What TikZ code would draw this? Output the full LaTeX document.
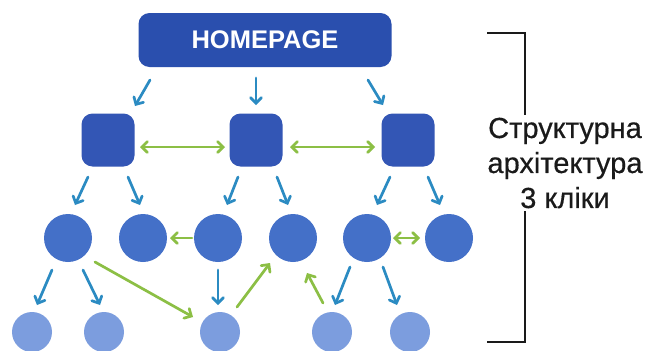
\documentclass[tikz,border=0pt]{standalone}
\usepackage{fontspec}
\setmainfont{Liberation Sans}
\newfontfamily\captionfont[FakeBold=0.5]{Liberation Sans}
\usetikzlibrary{arrows.meta}

\definecolor{navy}{HTML}{2A4FAE}
\definecolor{sqblue}{HTML}{3356B5}
\definecolor{midblue}{HTML}{4470C8}
\definecolor{lightblue}{HTML}{7C9DDE}
\definecolor{linkblue}{HTML}{2B8BC2}
\definecolor{linkgreen}{HTML}{8CBF45}
\definecolor{ink}{HTML}{1A1A1A}

\tikzset{
  tip/.tip={Straight Barb[length=5.5pt,width=11pt,line cap=round]},
  homebox/.style={fill=navy, rounded corners=11pt, minimum width=253pt,
    minimum height=54pt, inner sep=0pt, text=white,
    font=\fontsize{25.5}{30}\selectfont\bfseries},
  pagebox/.style={fill=sqblue, rounded corners=11pt, minimum size=53pt, inner sep=0pt},
  pagedot/.style={circle, fill=midblue, minimum size=48pt, inner sep=0pt},
  leafdot/.style={circle, fill=lightblue, minimum size=40pt, inner sep=0pt},
  down/.style={draw=linkblue, line width=2.7pt, line cap=round, -tip},
  cross/.style={draw=linkgreen, line width=2.7pt, line cap=round, -tip},
  crossboth/.style={cross, tip-tip},
  bracket/.style={draw=ink, line width=2pt},
  caption/.style={align=center, text=ink, font=\captionfont\fontsize{29}{35}\selectfont}
}

\begin{document}
\begin{tikzpicture}[x=1pt, y=-1pt]
  \useasboundingbox[fill=white] (0,0) rectangle (649,351);

  % top level
  \node[homebox] (home) at (265,40) {HOMEPAGE};

  % second level pages
  \node[pagebox] (sq1) at (108,140) {};
  \node[pagebox] (sq2) at (256,140) {};
  \node[pagebox] (sq3) at (408,140) {};

  % third level pages
  \node[pagedot] (c1) at (68,238) {};
  \node[pagedot] (c2) at (143,238) {};
  \node[pagedot] (c3) at (218,238) {};
  \node[pagedot] (c4) at (293,238) {};
  \node[pagedot] (c5) at (367,238) {};
  \node[pagedot] (c6) at (449,238) {};

  % fourth level pages
  \node[leafdot] (b1) at (32,332) {};
  \node[leafdot] (b2) at (104,332) {};
  \node[leafdot] (b3) at (220,332) {};
  \node[leafdot] (b4) at (332,332) {};
  \node[leafdot] (b5) at (410,332) {};

  % hierarchy links
  \draw[down] ([shift={(-115,40)}]home.center) -- ([shift={(27,-34)}]sq1.center);
  \draw[down] ([shift={(-9,38)}]home.center) -- ([shift={(0,-35)}]sq2.center);
  \draw[down] ([shift={(103,40)}]home.center) -- ([shift={(-25,-35)}]sq3.center);

  \draw[down] ([shift={(-20,37)}]sq1.center) -- ([shift={(7,-33)}]c1.center);
  \draw[down] ([shift={(20,37)}]sq1.center) -- ([shift={(-3,-33)}]c2.center);
  \draw[down] ([shift={(-18,37)}]sq2.center) -- ([shift={(9,-33)}]c3.center);
  \draw[down] ([shift={(21,37)}]sq2.center) -- ([shift={(-5,-33)}]c4.center);
  \draw[down] ([shift={(-18,37)}]sq3.center) -- ([shift={(10,-33)}]c5.center);
  \draw[down] ([shift={(20,37)}]sq3.center) -- ([shift={(-9,-33)}]c6.center);

  \draw[down] ([shift={(-16,32)}]c1.center) -- ([shift={(5,-27)}]b1.center);
  \draw[down] ([shift={(15,32)}]c1.center) -- ([shift={(-4,-27)}]b2.center);
  \draw[down] ([shift={(0,32)}]c3.center) -- ([shift={(-2,-27)}]b3.center);
  \draw[down] ([shift={(-17,29)}]c5.center) -- ([shift={(3,-27)}]b4.center);
  \draw[down] ([shift={(16,29)}]c5.center) -- ([shift={(-13,-27)}]b5.center);

  % cross links
  \draw[crossboth] ([shift={(32,7)}]sq1.center) -- ([shift={(-31,7)}]sq2.center);
  \draw[crossboth] ([shift={(34,7)}]sq2.center) -- ([shift={(-33,7)}]sq3.center);
  \draw[cross] ([shift={(-26,0)}]c3.center) -- ([shift={(27,0)}]c2.center);
  \draw[crossboth] ([shift={(26,0)}]c5.center) -- ([shift={(-29,0)}]c6.center);
  \draw[cross] ([shift={(27,24)}]c1.center) -- ([shift={(-27,-15)}]b3.center);
  \draw[cross] ([shift={(17,-25)}]b3.center) -- ([shift={(-23,25)}]c4.center);
  \draw[cross] ([shift={(-9,-29)}]b4.center) -- ([shift={(14,35)}]c4.center);

  % caption with bracket
  \node[caption] (label) at (565,163) {Структурна\\архітектура\\3 кліки};
  \coordinate (bt) at (487,33);
  \coordinate (bb) at (487,342);
  \draw[bracket] (bt) -| ([yshift=-1pt]label.north -| 525,0);
  \draw[bracket] (bb) -| ([yshift=1pt]label.south -| 525,0);
\end{tikzpicture}
\end{document}
